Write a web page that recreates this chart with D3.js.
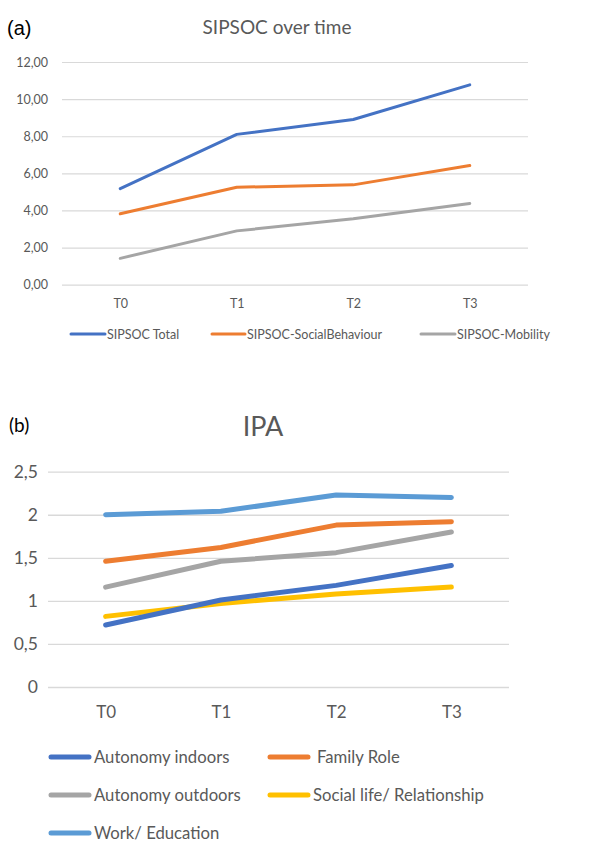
<!DOCTYPE html>
<html><head><meta charset="utf-8">
<script src="https://cdn.jsdelivr.net/npm/d3@7"></script>
<style>body{margin:0;background:#fff}svg{display:block}</style>
</head><body>
<script>
// ---- Data ----
const timepoints = ["T0","T1","T2","T3"];
const sipsocNames = ["SIPSOC Total","SIPSOC-SocialBehaviour","SIPSOC-Mobility"];
const sipsocTotal = [5.18, 8.10, 8.90, 10.77];
const sipsocSocial = [3.82, 5.25, 5.38, 6.42];
const sipsocMobility = [1.42, 2.90, 3.55, 4.38];
const sipsocTicks = [0,2,4,6,8,10,12];

const ipaNames = ["Autonomy indoors","Family Role","Autonomy outdoors","Social life/ Relationship","Work/ Education"];
const ipaAutIndoors = [0.72, 1.01, 1.18, 1.41];
const ipaFamilyRole = [1.46, 1.62, 1.88, 1.92];
const ipaAutOutdoors = [1.16, 1.46, 1.56, 1.80];
const ipaSocialLife = [0.82, 0.97, 1.08, 1.16];
const ipaWorkEdu = [2.00, 2.04, 2.23, 2.20];
const ipaTicks = [0,0.5,1,1.5,2,2.5];

const C = {blue:"#4472C4", orange:"#ED7D31", gray:"#A5A5A5", yellow:"#FFC000", lblue:"#5B9BD5"};

const svg = d3.select("body").append("svg").attr("width",589).attr("height",842);
const FONT = "Lato, 'Open Sans', sans-serif";
const fmt2 = v => d3.format(".2f")(v).replace(".", ",");
const fmtIPA = v => String(v).replace(".", ",");

// ---- Panel (a) ----
{
  const x = d3.scalePoint().domain(timepoints).range([62,528]).padding(0.5);
  const y = d3.scaleLinear().domain([0,12]).range([284.7,62]);
  const g = svg.append("g");
  svg.append("text").attr("x",7).attr("y",35).attr("font-family","'Liberation Sans', Arial, sans-serif")
    .attr("font-size",20).attr("fill","#000").text("(a)");
  svg.append("text").attr("x",277).attr("y",34).attr("text-anchor","middle").attr("font-family",FONT)
    .attr("font-size",19).attr("fill","#595959").text("SIPSOC over time");
  const ya = g.append("g").attr("transform","translate(62,0)")
    .call(d3.axisLeft(y).tickValues(sipsocTicks).tickFormat(fmt2).tickSize(-466).tickPadding(14));
  ya.select(".domain").remove();
  ya.selectAll("line").attr("stroke","#D9D9D9").attr("stroke-width",1.2);
  ya.selectAll("text").attr("font-family",FONT).attr("font-size",12.5).attr("fill","#595959");
  const xa = g.append("g").attr("transform","translate(0,284.7)")
    .call(d3.axisBottom(x).tickSize(0).tickPadding(14));
  xa.select(".domain").remove();
  xa.selectAll("text").attr("font-family",FONT).attr("font-size",12.5).attr("fill","#595959");
  const series = [[sipsocTotal,C.blue],[sipsocSocial,C.orange],[sipsocMobility,C.gray]];
  const line = d3.line().x((d,i)=>x(timepoints[i])).y(d=>y(d));
  series.slice().reverse().forEach(([vals,col])=>{
    g.append("path").attr("d",line(vals)).attr("fill","none").attr("stroke",col)
      .attr("stroke-width",3).attr("stroke-linecap","round").attr("stroke-linejoin","round");
  });
  const leg = [[71,107],[212,247],[421,457]];
  sipsocNames.forEach((n,i)=>{
    g.append("line").attr("x1",leg[i][0]).attr("x2",leg[i][1]-2).attr("y1",334).attr("y2",334)
      .attr("stroke",series[i][1]).attr("stroke-width",3).attr("stroke-linecap","round");
    g.append("text").attr("x",leg[i][1]).attr("y",338.5).attr("font-family",FONT).attr("font-size",12.5)
      .attr("fill","#595959").text(n);
  });
}

// ---- Panel (b) ----
{
  const x = d3.scalePoint().domain(timepoints).range([48,509]).padding(0.5);
  const y = d3.scaleLinear().domain([0,2.5]).range([687,471.7]);
  const g = svg.append("g");
  svg.append("text").attr("x",9).attr("y",432).attr("font-family",FONT)
    .attr("font-size",19).attr("fill","#000").text("(b)");
  svg.append("text").attr("x",263).attr("y",436).attr("text-anchor","middle").attr("font-family",FONT)
    .attr("font-size",27).attr("fill","#595959").text("IPA");
  const ya = g.append("g").attr("transform","translate(48,0)")
    .call(d3.axisLeft(y).tickValues(ipaTicks).tickFormat(fmtIPA).tickSize(-461).tickPadding(10));
  ya.select(".domain").remove();
  ya.selectAll("line").attr("stroke","#D9D9D9").attr("stroke-width",1.3);
  ya.selectAll("text").attr("font-family",FONT).attr("font-size",17.5).attr("fill","#595959");
  const xa = g.append("g").attr("transform","translate(0,687)")
    .call(d3.axisBottom(x).tickSize(0).tickPadding(19));
  xa.select(".domain").remove();
  xa.selectAll("text").attr("font-family",FONT).attr("font-size",17).attr("fill","#595959");
  const series = [[ipaAutIndoors,C.blue],[ipaFamilyRole,C.orange],[ipaAutOutdoors,C.gray],[ipaSocialLife,C.yellow],[ipaWorkEdu,C.lblue]];
  const line = d3.line().x((d,i)=>x(timepoints[i])).y(d=>y(d));
  series.slice().reverse().forEach(([vals,col])=>{
    g.append("path").attr("d",line(vals)).attr("fill","none").attr("stroke",col)
      .attr("stroke-width",5).attr("stroke-linecap","round").attr("stroke-linejoin","round");
  });
  const pos = [[49,757],[268,757],[49,795],[268,795],[49,833]];
  ipaNames.forEach((n,i)=>{
    const [lx,ly] = pos[i];
    g.append("line").attr("x1",lx+2).attr("x2",lx+40).attr("y1",ly).attr("y2",ly)
      .attr("stroke",series[i][1]).attr("stroke-width",5).attr("stroke-linecap","round");
    g.append("text").attr("x", lx+45 + (i===1?4:0)).attr("y",ly+6).attr("font-family",FONT).attr("font-size",16.7)
      .attr("fill","#595959").text(n);
  });
}
</script>
</body></html>
